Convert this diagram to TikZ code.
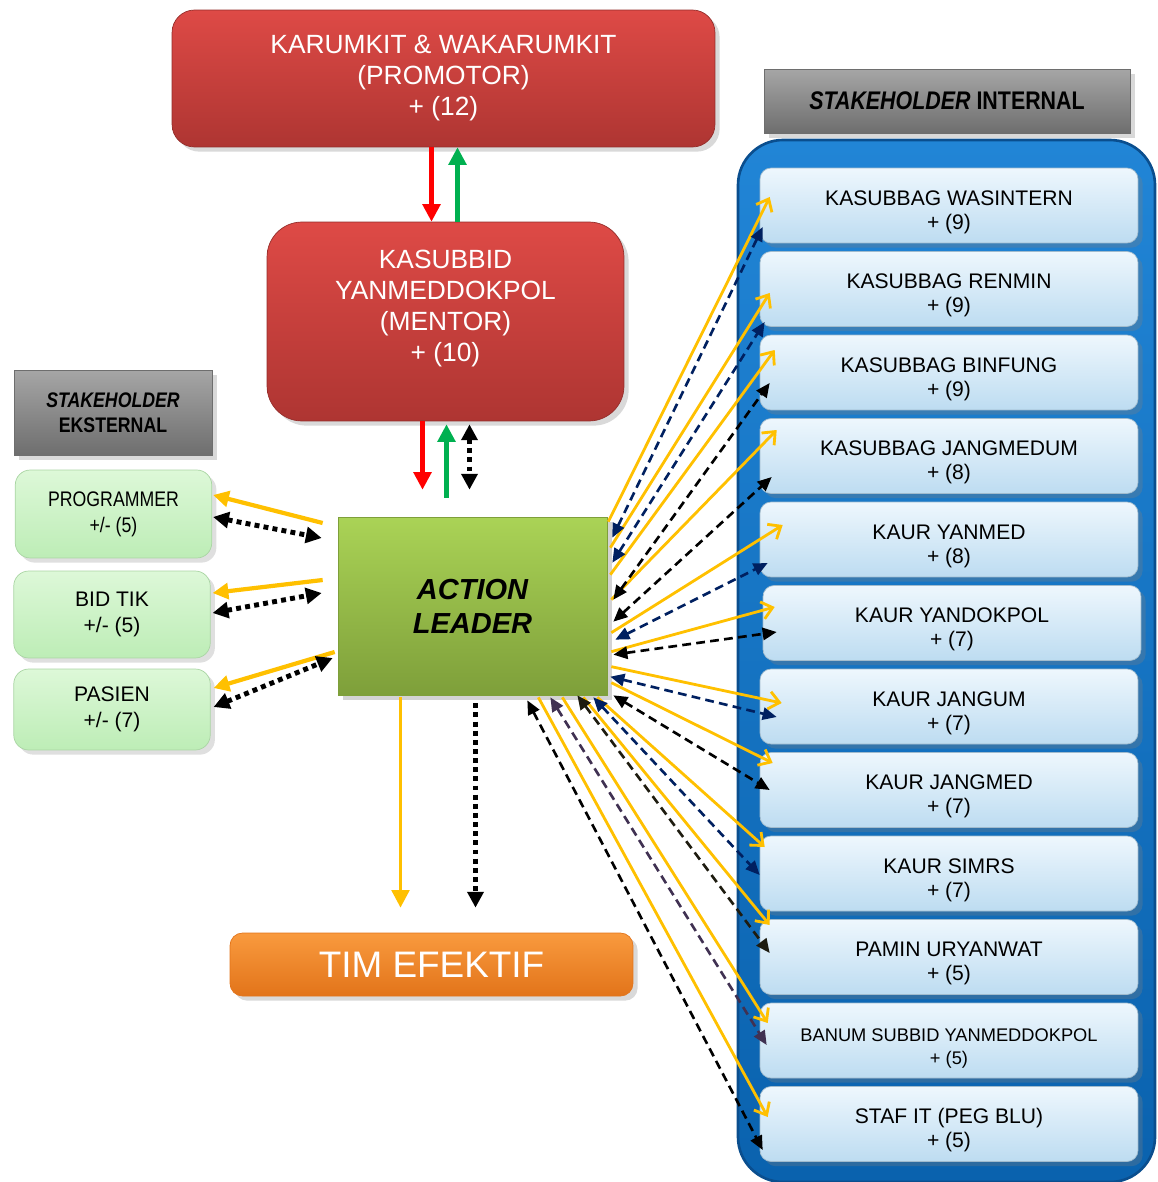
\documentclass[tikz,border=0pt]{standalone}
\usepackage{fontspec}
\setmainfont{Liberation Sans}
\newfontfamily\narrowfont{Liberation Sans}[FakeStretch=0.84]
\usetikzlibrary{arrows.meta, calc, shadows}

\newcommand{\intgap}{\rule{0pt}{16pt}}

\definecolor{redtop}{HTML}{DE4A46}
\definecolor{redbot}{HTML}{AE3532}
\definecolor{leaftop}{HTML}{AAD356}
\definecolor{leafbot}{HTML}{7E9F3A}
\definecolor{timtop}{HTML}{F99A3E}
\definecolor{timbot}{HTML}{E2741A}
\definecolor{greytop}{HTML}{A6A6A6}
\definecolor{greybot}{HTML}{6E6E6E}
\definecolor{exttop}{HTML}{DDF8D8}
\definecolor{extbot}{HTML}{BDEDB6}
\definecolor{inttop}{HTML}{EEF7FD}
\definecolor{intbot}{HTML}{BDDCF1}
\definecolor{conttop}{HTML}{2185D6}
\definecolor{contbot}{HTML}{0A62AE}
\definecolor{contedge}{HTML}{0A4E8E}
\definecolor{arrorange}{HTML}{FFC000}
\definecolor{arrnavy}{HTML}{002060}
\definecolor{arrdark}{HTML}{1E1C10}
\definecolor{arrpurple}{HTML}{403152}
\definecolor{arrred}{HTML}{FF0000}
\definecolor{arrgreen}{HTML}{00B050}

\begin{document}
\begin{tikzpicture}[x=0.02cm, y=-0.02cm,
    every node/.style={align=center, inner sep=2pt},
    redbox/.style={rounded corners=0.45cm, top color=redtop, bottom color=redbot, draw=redbot!85!black, text=white, font=\fontsize{15}{17.6}\selectfont, drop shadow={opacity=0.3}},
    greybox/.style={top color=greytop, bottom color=greybot, draw=greybot, drop shadow={opacity=0.3}},
    extbox/.style={rounded corners=0.3cm, top color=exttop, bottom color=extbot, draw=extbot!90!black, minimum width=3.93cm, font=\fontsize{12}{14.7}\selectfont, drop shadow={opacity=0.25}},
    intbox/.style={rounded corners=0.22cm, top color=inttop, bottom color=intbot, draw=intbot!85!black, minimum width=7.56cm, minimum height=1.5cm, font=\fontsize{12}{13.6}\selectfont, drop shadow={opacity=0.3}},
    vertarr/.style={line width=2.3pt, -{Triangle[length=10pt,width=10pt]}},
    dotarr/.style={line width=2.8pt, dash pattern=on 2.8pt off 2.4pt, {Triangle[length=9pt,width=9pt]}-{Triangle[length=9pt,width=9pt]}},
    leftarr/.style={draw=arrorange, line width=2.4pt, -{Triangle[length=9pt,width=9pt]}},
    orangearr/.style={draw=arrorange, line width=1.6pt, -{Straight Barb[length=6pt,width=10pt]}},
    dasharr/.style={line width=1.5pt, dash pattern=on 5pt off 3pt, {Triangle[length=8pt,width=7pt]}-{Triangle[length=8pt,width=7pt]}}
  ]
    \useasboundingbox (0,0) rectangle (1157,1182);

    % ---------- Promotor and mentor ----------
    \node[redbox, minimum width=10.86cm, minimum height=2.74cm] (prom) at (443.5,78.5) {KARUMKIT \& WAKARUMKIT\\(PROMOTOR)\\+ (12)};
    \node[redbox, rounded corners=0.7cm, minimum width=7.14cm, minimum height=3.98cm] (ment) at (445.5,321.5) {KASUBBID\\YANMEDDOKPOL\\(MENTOR)\\+ (10)\\\mbox{}};

    % ---------- Action leader and team ----------
    \node[top color=leaftop, bottom color=leafbot, draw=leafbot, minimum width=5.38cm, minimum height=3.56cm, font=\fontsize{16.5}{19.3}\selectfont\bfseries\itshape, drop shadow={opacity=0.35}] (al) at (472.5,606) {ACTION\\LEADER};
    \node[rounded corners=0.25cm, top color=timtop, bottom color=timbot, draw=timbot, minimum width=8.06cm, minimum height=1.26cm, text=white, font=\fontsize{21}{24}\selectfont, drop shadow={opacity=0.3}] (tim) at (431.5,964.5) {TIM EFEKTIF};

    % arrows promotor / mentor / action leader
    \draw[vertarr, arrred] ($(prom.south)+(-12,0)$) -- ($(ment.north)+(-14,0)$);
    \draw[vertarr, arrgreen] ($(ment.north)+(12,0)$) -- ($(prom.south)+(14,0)$);
    \draw[vertarr, arrred] ($(ment.south)+(-23,0)$) -- ($(al.north)+(-50,-27)$);
    \draw[vertarr, arrgreen] ($(al.north)+(-26,-19)$) -- ($(ment.south)+(1,3)$);
    \draw[dotarr] ($(ment.south)+(24,3)$) -- ($(al.north)+(-3,-27)$);

    % arrows to team
    \draw[vertarr, arrorange, line width=2pt] ($(al.south)+(-72,2)$) -- ($(tim.north)+(-31,-25)$);
    \draw[line width=2.8pt, dash pattern=on 2.8pt off 2.4pt, -{Triangle[length=9pt,width=9pt]}] ($(al.south)+(3,8)$) -- ($(tim.north)+(44,-25)$);

    % ---------- Stakeholder eksternal ----------
    \node[greybox, minimum width=3.96cm, minimum height=1.7cm, font=\narrowfont\bfseries\fontsize{12}{14.5}\selectfont] (ekst) at (113,412.5) {\textit{STAKEHOLDER}\\EKSTERNAL};
    \node[extbox, minimum height=1.76cm, font=\narrowfont\fontsize{12}{14.7}\selectfont] (prog) at (113.5,514) {PROGRAMMER\\+/- (5)};
    \node[extbox, minimum height=1.74cm] (bid) at (112,614.5) {BID TIK\\+/- (5)};
    \node[extbox, minimum height=1.62cm] (pas) at (112,709.5) {PASIEN\\+/- (7)};

    \draw[leftarr] ($(al.west)+(-15,-83)$) -- ($(prog.east)+(1,-19)$);
    \draw[dotarr] ($(prog.east)+(1,3)$) -- ($(al.west)+(-16,-68)$);
    \draw[leftarr] ($(al.west)+(-15,-26)$) -- ($(bid.east)+(2,-21.5)$);
    \draw[dotarr] ($(bid.east)+(2,-1.5)$) -- ($(al.west)+(-16,-13)$);
    \draw[leftarr] ($(al.west)+(-3,46)$) -- ($(pas.east)+(3,-21.5)$);
    \draw[dotarr] ($(pas.east)+(3,-2.5)$) -- ($(al.west)+(-5,52)$);

    % ---------- Stakeholder internal ----------
    \node[greybox, minimum width=7.32cm, minimum height=1.28cm, font=\narrowfont\bfseries\fontsize{14.5}{16}\selectfont] (intl) at (947,101) {\textit{STAKEHOLDER} INTERNAL};
    \path[draw=contedge, line width=1.5pt, top color=conttop, bottom color=contbot, rounded corners=0.9cm] (738,140) rectangle (1155,1182);

    \node[intbox] (b1) at (949,205.5) {\intgap KASUBBAG WASINTERN\\+ (9)};
    \node[intbox] (b2) at (949,289) {\intgap KASUBBAG RENMIN\\+ (9)};
    \node[intbox] (b3) at (949,372.5) {\intgap KASUBBAG BINFUNG\\+ (9)};
    \node[intbox] (b4) at (949,456) {\intgap KASUBBAG JANGMEDUM\\+ (8)};
    \node[intbox] (b5) at (949,539.5) {\intgap KAUR YANMED\\+ (8)};
    \node[intbox] (b6) at (952,623) {\intgap KAUR YANDOKPOL\\+ (7)};
    \node[intbox] (b7) at (949,706.5) {\intgap KAUR JANGUM\\+ (7)};
    \node[intbox] (b8) at (949,790) {\intgap KAUR JANGMED\\+ (7)};
    \node[intbox] (b9) at (949,873.5) {\intgap KAUR SIMRS\\+ (7)};
    \node[intbox] (b10) at (949,957) {\intgap PAMIN URYANWAT\\+ (5)};
    \node[intbox, font=\fontsize{10.4}{13}\selectfont] (b11) at (949,1040.5) {\intgap BANUM SUBBID YANMEDDOKPOL\\+ (5)};
    \node[intbox] (b12) at (949,1124) {\intgap STAF IT (PEG BLU)\\+ (5)};

    % solid arrows to internal stakeholders
    \draw[orangearr] ($(al.north east)+(1,5)$) -- ($(b1.west)+(10,-8.5)$);
    \draw[orangearr] ($(al.north east)+(3,31)$) -- ($(b2.west)+(10,4)$);
    \draw[orangearr] ($(al.north east)+(3,58)$) -- ($(b3.west)+(15,-22.5)$);
    \draw[orangearr] ($(al.north east)+(4,83)$) -- ($(b4.west)+(17,-26)$);
    \draw[orangearr] ($(al.north east)+(4,116)$) -- ($(b5.west)+(23,-14.5)$);
    \draw[orangearr] ($(al.north east)+(4,135)$) -- ($(b6.west)+(12,-16)$);
    \draw[orangearr] ($(al.north east)+(4,150)$) -- ($(b7.west)+(22,-3.5)$);
    \draw[orangearr] ($(al.north east)+(4,166)$) -- ($(b8.west)+(13,-27)$);
    \draw[orangearr] ($(al.south east)+(-10,2)$) -- ($(b9.west)+(5,-26.5)$);
    \draw[orangearr] ($(al.south east)+(-24,2)$) -- ($(b10.west)+(10,-32)$);
    \draw[orangearr] ($(al.south east)+(-45,2)$) -- ($(b11.west)+(8,-17.5)$);
    \draw[orangearr] ($(al.south east)+(-69,2)$) -- ($(b12.west)+(8,-7)$);

    % dashed two-way arrows
    \draw[dasharr, arrnavy] ($(al.north east)+(5,21)$) -- ($(b1.west)+(3,21.5)$);
    \draw[dasharr, arrnavy] ($(al.north east)+(5,46)$) -- ($(b2.west)+(5,33)$);
    \draw[dasharr] ($(al.north east)+(6,83)$) -- ($(b3.west)+(10,10.5)$);
    \draw[dasharr] ($(al.north east)+(6,105)$) -- ($(b4.west)+(12,21)$);
    \draw[dasharr, arrnavy] ($(al.north east)+(8,123)$) -- ($(b5.west)+(8,23.5)$);
    \draw[dasharr] ($(al.north east)+(6,138)$) -- ($(b6.west)+(14,9)$);
    \draw[dasharr, arrnavy] ($(al.north east)+(3,160)$) -- ($(b7.west)+(17,10.5)$);
    \draw[dasharr] ($(al.south east)+(6,0)$) -- ($(b8.west)+(10,0)$);
    \draw[dasharr, arrnavy] ($(al.south east)+(-14,2)$) -- ($(b9.west)+(0,1.5)$);
    \draw[dasharr, arrdark] ($(al.south east)+(-30,0)$) -- ($(b10.west)+(10,-4)$);
    \draw[dasharr, arrpurple] ($(al.south east)+(-57,2)$) -- ($(b11.west)+(7,4.5)$);
    \draw[dasharr] ($(al.south east)+(-80,5)$) -- ($(b12.west)+(3,26)$);
\end{tikzpicture}
\end{document}
